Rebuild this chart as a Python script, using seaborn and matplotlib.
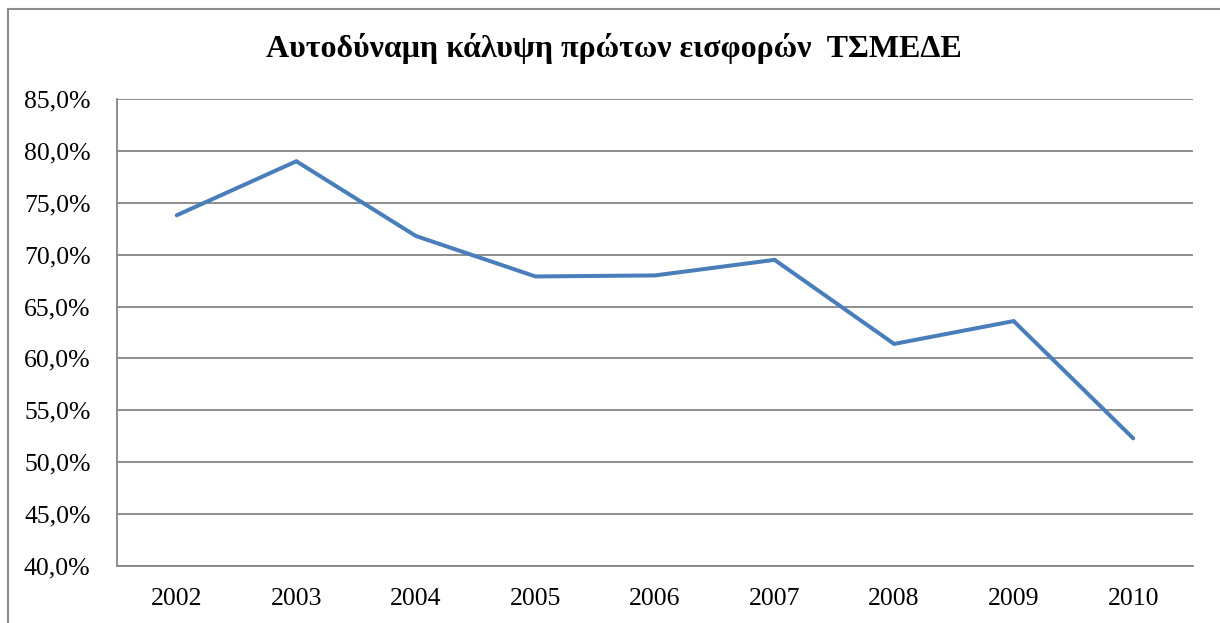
import numpy as np
import pandas as pd
import matplotlib
matplotlib.use("Agg")
import matplotlib.pyplot as plt
from matplotlib.patches import Rectangle
from matplotlib.ticker import FuncFormatter, FixedLocator
import seaborn as sns

years = ["2002", "2003", "2004", "2005", "2006", "2007", "2008", "2009", "2010"]
coverage = [73.8, 79.0, 71.8, 67.9, 68.0, 69.5, 61.4, 63.6, 52.3]
title = "Αυτοδύναμη κάλυψη πρώτων εισφορών  ΤΣΜΕΔΕ"

sns.set_style("white")
plt.rcParams['font.family'] = ['Liberation Serif', 'DejaVu Serif']
plt.rcParams['text.color'] = 'black'

df = pd.DataFrame({"pos": np.arange(len(years)), "val": coverage})

fig = plt.figure(figsize=(12.2, 6.23), dpi=100)
ax = fig.add_axes([117 / 1220, 57 / 623, (1193 - 117) / 1220, (566 - 99) / 623])

sns.lineplot(data=df, x="pos", y="val", ax=ax, color="#4A7EBB", linewidth=2.9,
             solid_capstyle="round", solid_joinstyle="miter")

ax.set_ylim(40, 85)
ax.set_xlim(-0.5, len(years) - 0.5)
ax.set_yticks(np.arange(40, 86, 5))
ax.yaxis.set_major_formatter(FuncFormatter(lambda v, p: f"{v:.1f}%".replace(".", ",")))
ax.set_xticks(np.arange(len(years)))
ax.set_xticklabels(years)
ax.xaxis.set_minor_locator(FixedLocator(np.arange(-0.5, len(years), 1.0)))
ax.tick_params(axis="x", which="major", length=0, pad=16, labelsize=18.5, labelcolor="black")
ax.tick_params(axis="x", which="minor", length=7, width=1.3, color="#868686", direction="out")
ax.tick_params(axis="y", which="major", length=7, width=1.3, color="#868686", direction="out",
               labelsize=18.5, pad=12, labelcolor="black")
ax.grid(axis="y", color="#868686", linewidth=1.3)
ax.set_axisbelow(True)
ax.set_xlabel("")
ax.set_ylabel("")
for side in ["top", "right"]:
    ax.spines[side].set_visible(False)
for side in ["left", "bottom"]:
    ax.spines[side].set_color("#868686")
    ax.spines[side].set_linewidth(1.3)

fig.text(614 / 1220, 1 - 48 / 623, title, ha="center", va="center",
         fontsize=23, fontweight="bold", color="black")

# outer chart border
fig.patches.append(Rectangle((8 / 1220, -0.01), 1.02, 1 - 9 / 623 + 0.01, transform=fig.transFigure,
                             fill=False, edgecolor="#8c8c8c", linewidth=1.5))

fig.savefig("out.png", dpi=100)
